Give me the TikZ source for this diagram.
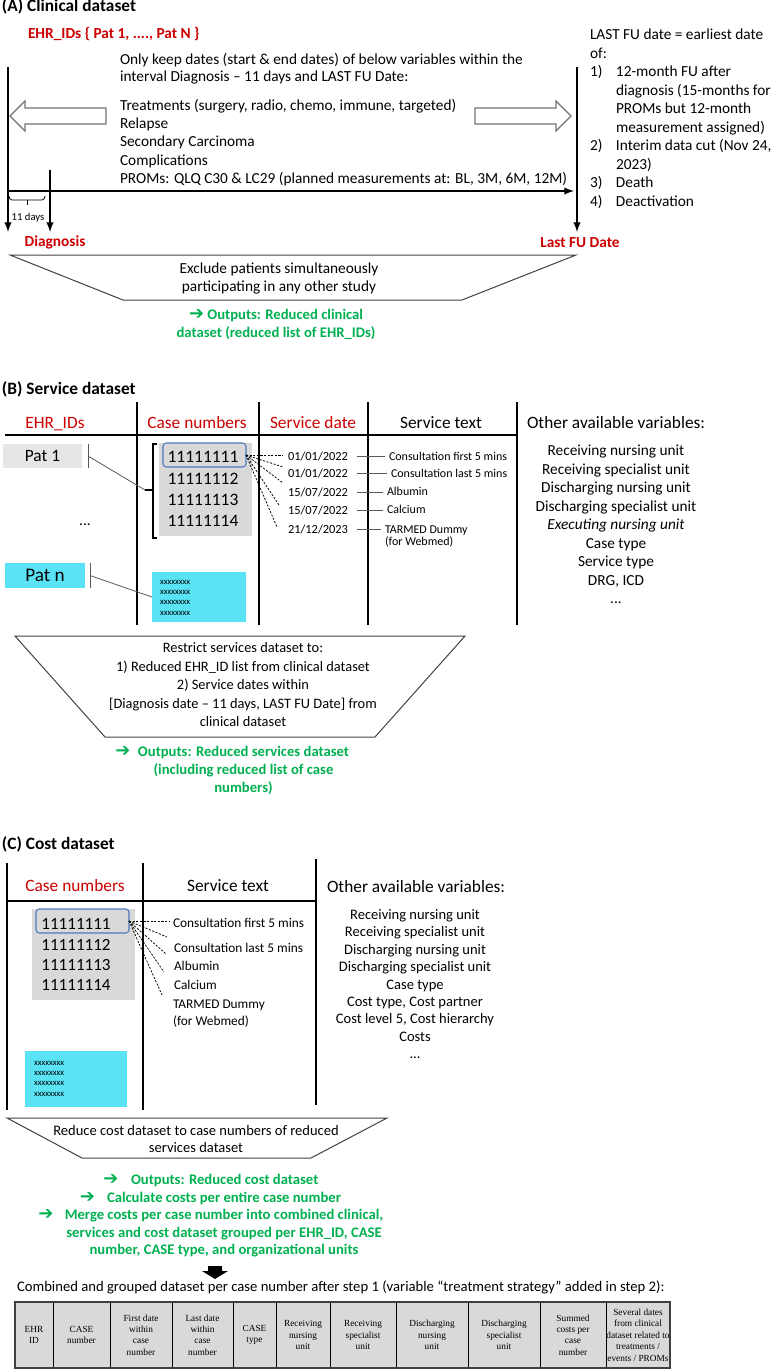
\documentclass[tikz,border=0pt]{standalone}
\usepackage{fontspec}
\setmainfont{Carlito}
\newfontfamily\symfont{DejaVu Sans}
\newfontfamily\tabfont{Liberation Serif}
\usetikzlibrary{positioning}

\definecolor{labred}{RGB}{204,0,0}
\definecolor{outgreen}{RGB}{0,176,80}
\definecolor{casegray}{RGB}{217,217,217}
\definecolor{patgray}{RGB}{231,230,230}
\definecolor{patcyan}{RGB}{89,227,245}
\definecolor{selblue}{RGB}{80,120,190}
\definecolor{edgegray}{RGB}{64,64,64}
\definecolor{arrowgray}{RGB}{118,113,113}
\definecolor{tiegray}{RGB}{90,90,90}

\newcommand{\outarrow}{{\symfont\fontsize{13.5}{13.5}\selectfont ➔}}

\begin{document}
\begin{tikzpicture}[x=0.75pt, y=-0.75pt,
    every node/.style={inner sep=0pt, outer sep=0pt},
    sectitle/.style={anchor=base west, font=\fontsize{13}{15}\selectfont\bfseries},
    body/.style={font=\fontsize{11.5}{13.9}\selectfont},
    redbold/.style={text=labred, font=\fontsize{11.5}{14}\selectfont\bfseries},
    colhead/.style={anchor=base, font=\fontsize{13}{15}\selectfont},
    outtext/.style={text=outgreen, font=\fontsize{11}{13.7}\selectfont\bfseries},
    datefont/.style={anchor=base, font=\fontsize{9.3}{11}\selectfont},
    servtext/.style={anchor=base west, font=\fontsize{9}{11}\selectfont},
    casenum/.style={align=center, anchor=north},
    xfont/.style={align=left, anchor=north west, font=\fontsize{6.5}{7.8}\selectfont},
    timeline/.style={line width=1.5pt, -latex},
    colrule/.style={line width=1.5pt},
    trap/.style={draw=edgegray, line width=0.75pt},
    blockarrow/.style={draw=arrowgray, line width=0.9pt, fill=white},
    fan/.style={line width=0.55pt, dash pattern=on 1.6pt off 1.1pt},
    tie/.style={draw=tiegray, line width=0.6pt},
    cell/.style={draw, fill=casegray, line width=0.6pt, minimum height=49.5pt, align=center, font=\tabfont\fontsize{7}{8.6}\selectfont}
]
\useasboundingbox (0,0) rectangle (774,1370);

% (A) clinical dataset
\node[sectitle] (titleA) at (2,12) {(A) Clinical dataset};
\node[redbold, anchor=base west] (ehrA) at (28,38.5) {EHR\_IDs \{ Pat 1, ...., Pat N \}};

\coordinate (axL) at (8,67);
\coordinate (axLend) at (8,232);
\coordinate (axD) at (50,170);
\coordinate (axDend) at (50,232);
\coordinate (axR) at (577,67);
\coordinate (axRend) at (577,232);
\coordinate (tlA) at (8,191);
\coordinate (tlB) at (574,191);
\draw[timeline] (axL) -- (axLend);
\draw[timeline] (axD) -- (axDend);
\draw[timeline] (axR) -- (axRend);
\draw[timeline] (tlA) -- (tlB);

\draw[line width=0.6pt] (9,196) to[out=-90,in=180] (12,200) -- (42,200) to[out=0,in=-90] (45,196);
\draw[line width=0.6pt] (27,200) -- (27,205);
\node[font=\fontsize{8}{9}\selectfont, anchor=base] (days) at (28,220.5) {11 days};

\node[redbold, anchor=base] (diag) at (55,246.5) {Diagnosis};
\node[redbold, anchor=base] (lastfu) at (580,247) {Last FU Date};

\node[body, anchor=north west, align=left, font=\fontsize{11.5}{13.2}\selectfont] (keep) at (120,53) {Only keep dates (start \& end dates) of below variables within the\\interval Diagnosis – 11 days and LAST FU Date:};
\node[body, anchor=north west, align=left, font=\fontsize{11.5}{13.7}\selectfont] (vars) at (120,99) {Treatments (surgery, radio, chemo, immune, targeted)\\Relapse\\Secondary Carcinoma\\Complications\\PROMs: QLQ C30 \& LC29 (planned measurements at: BL, 3M, 6M, 12M)};

\node[body, anchor=north west] (fudef) at (590,26.5) {\begin{tabular}{@{}p{19.5pt}@{}l@{}}
\multicolumn{2}{@{}l@{}}{LAST FU date = earliest date}\\
\multicolumn{2}{@{}l@{}}{of:}\\
1) & 12-month FU after\\
 & diagnosis (15-months for\\
 & PROMs but 12-month\\
 & measurement assigned)\\
2) & Interim data cut (Nov 24,\\
 & 2023)\\
3) & Death\\
4) & Deactivation
\end{tabular}};

\draw[blockarrow] (106,108) -- (25,108) -- (25,101) -- (10,116) -- (25,131) -- (25,124) -- (106,124) -- cycle;
\draw[blockarrow] (475,108) -- (556,108) -- (556,101) -- (571,116) -- (556,131) -- (556,124) -- (475,124) -- cycle;

\draw[trap] (10,255) -- (576,255) -- (462,300) -- (123,300) -- cycle;
\node[body, align=center] (exclA) at (279,278.7) {Exclude patients simultaneously\\participating in any other study};
\node[outtext, align=center, anchor=north] (outA) at (276,309) {\outarrow\ Outputs: Reduced clinical\\dataset (reduced list of EHR\_IDs)};

% (B) service dataset
\node[sectitle] (titleB) at (2,394) {(B) Service dataset};

\coordinate (rB1) at (137,402);
\coordinate (rB1end) at (137,625);
\coordinate (rB2) at (259,402);
\coordinate (rB2end) at (259,625);
\coordinate (rB3) at (368,402);
\coordinate (rB3end) at (368,625);
\coordinate (rB4) at (517,402);
\coordinate (rB4end) at (517,625);
\coordinate (hB) at (5,435);
\coordinate (hBend) at (517,435);
\draw[colrule] (rB1) -- (rB1end);
\draw[colrule] (rB2) -- (rB2end);
\draw[colrule] (rB3) -- (rB3end);
\draw[colrule] (rB4) -- (rB4end);
\draw[colrule] (hB) -- (hBend);

\node[colhead, text=labred] (ehrB) at (55,428) {EHR\_IDs};
\node[colhead, text=labred] (caseB) at (197,428) {Case numbers};
\node[colhead, text=labred] (dateB) at (313,428) {Service date};
\node[colhead] (textB) at (441,428) {Service text};
\node[colhead, anchor=base west] (otherB) at (527,428) {Other available variables:};

\node[fill=patgray, minimum width=59.25pt, minimum height=18pt, font=\fontsize{13}{15}\selectfont] (pat1) at (42.5,456) {Pat 1};
\node[fill=patcyan, minimum width=60pt, minimum height=18.75pt, font=\fontsize{14.4}{16}\selectfont] (patn) at (45,575.5) {Pat n};
\node[body, anchor=base] (dotsB) at (85,525) {...};

\node[fill=casegray, minimum width=69.75pt, minimum height=69.75pt] (casesB) at (205.5,489.5) {};
\node[draw=selblue, line width=0.8pt, rounded corners=2.5pt, minimum width=62.25pt, minimum height=18pt] (selB) at (204.5,455) {};
\node[casenum, font=\fontsize{13.1}{16}\selectfont] (numsB) at (203,451.5) {11111111\\11111112\\11111113\\11111114};
\node[fill=patcyan, minimum width=70.5pt, minimum height=37.5pt] (xboxB) at (199,597) {};
\node[xfont] (xB) at (160,580) {xxxxxxxx\\xxxxxxxx\\xxxxxxxx\\xxxxxxxx};

\coordinate (p1top) at (88,444);
\coordinate (p1bot) at (88,468);
\coordinate (p1mid) at (88,456);
\coordinate (brtop) at (153,444);
\coordinate (brbot) at (153,538);
\coordinate (brmid) at (145,490);
\coordinate (pntop) at (90,563);
\coordinate (pnbot) at (90,588);
\coordinate (pnmid) at (90,575.5);
\draw[tie] (p1top) -- (p1bot);
\draw[tie] (p1mid) -- (brmid);
\draw[line width=0.9pt] ([xshift=3pt]brtop) -- (brtop) -- (brbot) -- ([xshift=3pt]brbot);
\draw[line width=0.9pt] (brmid) -- (brmid -| brtop);
\draw[tie] (pntop) -- (pnbot);
\draw[tie] (pnmid) -- (xboxB.west);

\node[datefont] (d1) at (318,460) {01/01/2022};
\node[datefont] (d2) at (318,477) {01/01/2022};
\node[datefont] (d3) at (318,496) {15/07/2022};
\node[datefont] (d4) at (318,514) {15/07/2022};
\node[datefont] (d5) at (318,533) {21/12/2023};

\coordinate (fB1) at (283,455);
\coordinate (fB2) at (283,467);
\coordinate (fB3) at (283,483);
\coordinate (fB4) at (279,505);
\coordinate (fB5) at (277,527);
\draw[fan] (selB.east) -- (fB1);
\draw[fan] (selB.east) -- (fB2);
\draw[fan] (selB.east) -- (fB3);
\draw[fan] (selB.east) -- (fB4);
\draw[fan] (selB.east) -- (fB5);

\node[servtext] (s1) at (389,460) {Consultation first 5 mins};
\node[servtext] (s2) at (391,477) {Consultation last 5 mins};
\node[servtext] (s3) at (387,495) {Albumin};
\node[servtext] (s4) at (387,513.5) {Calcium};
\node[servtext] (s5) at (385,533) {TARMED Dummy};
\node[servtext] (s5b) at (385,545.5) {(for Webmed)};

\draw[tie] ([xshift=6.75pt]d1.east) -- ([xshift=-3pt]s1.west |- d1.east);
\draw[tie] ([xshift=6.75pt]d2.east) -- ([xshift=-3pt]s2.west |- d2.east);
\draw[tie] ([xshift=6.75pt]d3.east) -- ([xshift=-3pt]s3.west |- d3.east);
\draw[tie] ([xshift=6.75pt]d4.east) -- ([xshift=-3pt]s4.west |- d4.east);
\draw[tie] ([xshift=6.75pt]d5.east) -- ([xshift=-3pt]s5.west |- d5.east);

\node[body, align=center, anchor=north] (othB) at (616,445) {Receiving nursing unit\\Receiving specialist unit\\Discharging nursing unit\\Discharging specialist unit\\\textit{Executing nursing unit}\\Case type\\Service type\\DRG, ICD\\...};

\draw[trap] (15,636) -- (465,636) -- (375,737) -- (105,737) -- cycle;
\node[font=\fontsize{10.8}{13.9}\selectfont, align=center, anchor=north] (restrictB) at (243,642.5) {Restrict services dataset to:\\1) Reduced EHR\_ID list from clinical dataset\\2) Service dates within\\{}[Diagnosis date – 11 days, LAST FU Date] from\\clinical dataset};

\node[outtext, anchor=base] (arrowB) at (123,756.5) {\outarrow};
\node[outtext, align=center, anchor=north] (outB) at (243.5,746) {Outputs: Reduced services dataset\\(including reduced list of case\\numbers)};

% (C) cost dataset
\node[sectitle] (titleC) at (2,849) {(C) Cost dataset};

\coordinate (rC1) at (7,863);
\coordinate (rC1end) at (7,1110);
\coordinate (rC2) at (143,863);
\coordinate (rC2end) at (143,1110);
\coordinate (rC3) at (316,859);
\coordinate (rC3end) at (316,1105);
\coordinate (hC) at (7,901);
\coordinate (hCend) at (316,901);
\draw[colrule] (rC1) -- (rC1end);
\draw[colrule] (rC2) -- (rC2end);
\draw[colrule] (rC3) -- (rC3end);
\draw[colrule] (hC) -- (hCend);

\node[colhead, text=labred] (caseC) at (75,891.5) {Case numbers};
\node[colhead] (textC) at (228,891.5) {Service text};
\node[colhead, anchor=base west] (otherC) at (327,892) {Other available variables:};

\node[fill=casegray, minimum width=77.25pt, minimum height=68.25pt] (casesC) at (83.5,954.5) {};
\node[draw=selblue, line width=0.8pt, rounded corners=2.5pt, minimum width=69.75pt, minimum height=18pt] (selC) at (82.5,921) {};
\node[casenum, font=\fontsize{12.8}{15.2}\selectfont] (numsC) at (76,919) {11111111\\11111112\\11111113\\11111114};
\node[fill=patcyan, minimum width=76.5pt, minimum height=42pt] (xboxC) at (76,1079) {};
\node[xfont] (xC) at (34,1061) {xxxxxxxx\\xxxxxxxx\\xxxxxxxx\\xxxxxxxx};

\coordinate (fC1) at (170,921);
\coordinate (fC2) at (167,937);
\coordinate (fC3) at (166,954);
\coordinate (fC4) at (164,972);
\coordinate (fC5) at (162,995);
\draw[fan] (selC.east) -- (fC1);
\draw[fan] (selC.east) -- (fC2);
\draw[fan] (selC.east) -- (fC3);
\draw[fan] (selC.east) -- (fC4);
\draw[fan] (selC.east) -- (fC5);

\node[servtext, font=\fontsize{10}{12}\selectfont] (t1) at (173,927) {Consultation first 5 mins};
\node[servtext, font=\fontsize{10}{12}\selectfont] (t2) at (174,952) {Consultation last 5 mins};
\node[servtext, font=\fontsize{10}{12}\selectfont] (t3) at (174,970) {Albumin};
\node[servtext, font=\fontsize{10}{12}\selectfont] (t4) at (174,989) {Calcium};
\node[servtext, font=\fontsize{10}{12}\selectfont] (t5) at (173,1008.5) {TARMED Dummy};
\node[servtext, font=\fontsize{10}{12}\selectfont] (t5b) at (173,1025) {(for Webmed)};

\node[font=\fontsize{10.9}{13.05}\selectfont, align=center, anchor=north] (othC) at (415,909.5) {Receiving nursing unit\\Receiving specialist unit\\Discharging nursing unit\\Discharging specialist unit\\Case type\\Cost type, Cost partner\\Cost level 5, Cost hierarchy\\Costs\\...};

\draw[trap] (7,1118) -- (387,1118) -- (311,1158) -- (82,1158) -- cycle;
\node[font=\fontsize{10.9}{13.1}\selectfont, align=center, anchor=north] (reduceC) at (196,1125.3) {Reduce cost dataset to case numbers of reduced\\services dataset};

\node[outtext, anchor=base] (arrC1) at (111,1184) {\outarrow};
\node[outtext, anchor=base west] (outC1) at (131,1184) {Outputs: Reduced cost dataset};
\node[outtext, anchor=base] (arrC2) at (87.5,1202) {\outarrow};
\node[outtext, anchor=base west] (outC2) at (107,1202) {Calculate costs per entire case number};
\node[outtext, anchor=base] (arrC3) at (46,1219.5) {\outarrow};
\node[outtext, align=center, anchor=north, font=\fontsize{11}{13.3}\selectfont\bfseries] (outC3) at (224,1209) {Merge costs per case number into combined clinical,\\services and cost dataset grouped per EHR\_ID, CASE\\number, CASE type, and organizational units};

\fill (208,1266) -- (222,1266) -- (222,1271) -- (228,1271) -- (215,1279) -- (202,1271) -- (208,1271) -- cycle;

\node[font=\fontsize{11}{13}\selectfont, anchor=base west] (capD) at (17,1291.5) {Combined and grouped dataset per case number after step 1 (variable “treatment strategy” added in step 2):};

\node[cell, minimum width=28.5pt, anchor=north west] (c1) at (15,1302) {EHR\\ID};
\node[cell, minimum width=42.75pt, right=0pt of c1] (c2) {CASE\\number};
\node[cell, minimum width=46.5pt, right=0pt of c2] (c3) {First date\\within\\case\\number};
\node[cell, minimum width=45.75pt, right=0pt of c3] (c4) {Last date\\within\\case\\number};
\node[cell, minimum width=32.25pt, right=0pt of c4] (c5) {CASE\\type};
\node[cell, minimum width=40.5pt, right=0pt of c5] (c6) {Receiving\\nursing\\unit};
\node[cell, minimum width=49.5pt, right=0pt of c6] (c7) {Receiving\\specialist\\unit};
\node[cell, minimum width=54pt, right=0pt of c7] (c8) {Discharging\\nursing\\unit};
\node[cell, minimum width=54pt, right=0pt of c8] (c9) {Discharging\\specialist\\unit};
\node[cell, minimum width=49.5pt, right=0pt of c9] (c10) {Summed\\costs per\\case\\number};
\node[cell, minimum width=48pt, right=0pt of c10] (c11) {Several dates\\from clinical\\dataset related to\\treatments /\\events / PROMs};
\draw[line width=1.4pt, draw=edgegray] (c1.north west) rectangle (c11.south east);

\end{tikzpicture}
\end{document}
